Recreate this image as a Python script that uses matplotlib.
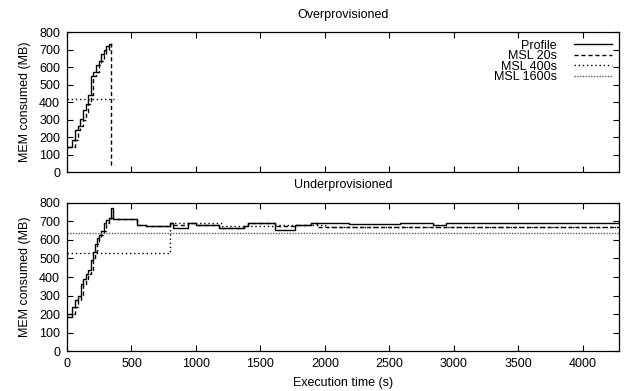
import numpy as np
import matplotlib
matplotlib.use("Agg")
import matplotlib.pyplot as plt

plt.rcParams['font.family'] = ['Liberation Sans', 'DejaVu Sans']
plt.rcParams['font.size'] = 9

# ------------------------------ data -----------------------------------
# Overprovisioned run (step profile, values in MB)
top_prof_t = [0, 41, 62, 85, 104, 124, 145, 163, 184, 202, 222, 246, 266, 287, 305, 326, 344]
top_prof_v = [143, 185, 238, 261, 305, 356, 390, 438, 547, 571, 610, 632, 672, 695, 718, 733, 733]
top_m20_t = [0, 62, 85, 104, 124, 145, 163, 184, 202, 222, 246, 266, 287, 305, 326, 344, 344, 363]
top_m20_v = [143, 185, 238, 261, 300, 345, 390, 438, 547, 571, 610, 632, 672, 695, 718, 733, 42, 42]
top_m400_t = [0, 363]
top_m400_v = [415, 415]

# Underprovisioned run
bot_prof_t = [0, 40, 60, 85, 105, 125, 145, 165, 185, 205, 215, 230, 250, 265, 285, 305, 325, 345,
              355, 545, 610, 795, 820, 940, 1000, 1180, 1375, 1400, 1615, 1765, 1895, 1935, 2190,
              2580, 2840, 2940, 4280]
bot_prof_v = [185, 239, 275, 297, 365, 387, 419, 440, 491, 536, 577, 608, 629, 649, 692, 710, 716, 775,
              712, 683, 676, 689, 662, 689, 680, 665, 674, 692, 653, 680, 694, 689, 687,
              692, 680, 689, 689]
bot_m20_t = [0, 60, 85, 105, 125, 145, 165, 185, 205, 215, 230, 250, 265, 285, 305, 325, 345, 365,
             375, 545, 610, 795, 820, 940, 1000, 1180, 1375, 1400, 1615, 1765, 1895, 1935, 4280]
bot_m20_v = [203, 239, 275, 297, 365, 387, 419, 440, 491, 536, 577, 608, 629, 649, 692, 710, 716, 716,
             712, 683, 676, 689, 680, 689, 680, 667, 674, 690, 674, 680, 690, 671, 671]
bot_m400_t = [0, 796, 1200, 1600, 2000, 4280]
bot_m400_v = [527, 689, 674, 680, 671, 671]
bot_m1600_t = [0, 4280]
bot_m1600_v = [635, 635]

yticks = [0, 100, 200, 300, 400, 500, 600, 700, 800]
xticks = [0, 500, 1000, 1500, 2000, 2500, 3000, 3500, 4000]

# ------------------------------ plot -----------------------------------
fig = plt.figure(figsize=(6.26, 3.91), dpi=100)
ax1 = fig.add_axes([0.107, 0.560, 0.882, 0.358])
ax2 = fig.add_axes([0.107, 0.102, 0.882, 0.379])

sty_prof = dict(color='black', lw=1.0, ls='-')
sty_20 = dict(color='black', lw=1.0, ls=(0, (3, 2)))
sty_400 = dict(color='black', lw=1.0, ls=(0, (1, 2)))
sty_1600 = dict(color='0.35', lw=1.0, ls=(0, (1, 1)))

ax1.plot(top_prof_t, top_prof_v, drawstyle='steps-post', label='Profile', **sty_prof)
ax1.plot(top_m20_t, top_m20_v, drawstyle='steps-post', label='MSL 20s', **sty_20)
ax1.plot(top_m400_t, top_m400_v, drawstyle='steps-post', label='MSL 400s', **sty_400)
ax1.plot([], [], label='MSL 1600s', **sty_1600)

ax2.plot(bot_prof_t, bot_prof_v, drawstyle='steps-post', **sty_prof)
ax2.plot(bot_m20_t, bot_m20_v, drawstyle='steps-post', **sty_20)
ax2.plot(bot_m400_t, bot_m400_v, drawstyle='steps-post', **sty_400)
ax2.plot(bot_m1600_t, bot_m1600_v, drawstyle='steps-post', **sty_1600)

for ax in (ax1, ax2):
    ax.set_xlim(0, 4280)
    ax.set_ylim(0, 800)
    ax.set_xticks(xticks)
    ax.set_yticks(yticks)
    ax.tick_params(direction='in', length=4, width=0.8, top=True, right=True, labelsize=9)
    ax.tick_params(axis='y', pad=5)
    ax.tick_params(axis='x', pad=5)
    ax.set_ylabel('MEM consumed (MB)', fontsize=9, labelpad=6)
    for s in ax.spines.values():
        s.set_linewidth(0.9)

ax1.tick_params(axis='x', labelbottom=False)
ax1.set_title('Overprovisioned', fontsize=9, pad=10.4)
ax2.set_title('Underprovisioned', fontsize=9, pad=10.4)
ax2.set_xlabel('Execution time (s)', fontsize=9, labelpad=5)

ax1.legend(loc='upper right', frameon=False, markerfirst=False, fontsize=9,
           handlelength=3.0, handletextpad=1.4, labelspacing=-0.12, borderaxespad=0.35,
           borderpad=0.25)

fig.savefig('out.png', dpi=100)
